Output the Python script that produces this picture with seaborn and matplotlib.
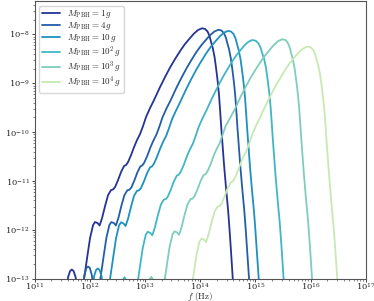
import numpy as np
import pandas as pd
import matplotlib
matplotlib.use("Agg")
import matplotlib.pyplot as plt
import seaborn as sns

# log10 f [Hz] and log10 Omega_GW h^2
masses = ["1", "4", "10", "10^2", "10^3", "10^4"]
colors = ["#253494", "#225ea8", "#1d91c0", "#41b6c4", "#7fcdbb", "#c7e9b4"]

lf_1g = [11.531, 11.576, 11.604, 11.640, 11.671, 11.703, 11.740, 11.767, 11.812, 11.857,
         11.894, 11.948, 12.002, 12.057, 12.093, 12.138, 12.175, 12.220, 12.274, 12.329,
         12.383, 12.419, 12.456, 12.510, 12.564, 12.619, 12.655, 12.691, 12.746, 12.800,
         12.854, 12.909, 12.963, 13.017, 13.090, 13.162, 13.271, 13.362, 13.452, 13.543,
         13.634, 13.724, 13.815, 13.887, 13.960, 14.032, 14.087, 14.132, 14.168, 14.196,
         14.226, 14.259, 14.286, 14.317, 14.341, 14.359, 14.377, 14.404, 14.431, 14.467,
         14.504, 14.531, 14.558, 14.589, 14.612]
lo_1g = [-14.05, -13.23, -12.965, -12.842, -12.812, -12.842, -12.965, -13.23, -14.05, -13.33,
         -13.0, -12.576, -12.167, -11.900, -11.839, -11.860, -11.911, -11.757, -11.511, -11.286,
         -11.184, -11.174, -11.122, -10.979, -10.815, -10.692, -10.672, -10.611, -10.467, -10.303,
         -10.160, -10.037, -9.873, -9.689, -9.505, -9.341, -9.075, -8.870, -8.676, -8.502,
         -8.338, -8.194, -8.072, -7.980, -7.908, -7.873, -7.887, -7.939, -8.031, -8.154,
         -8.276, -8.461, -8.686, -8.973, -9.259, -9.546, -9.853, -10.263, -10.672, -11.143,
         -11.593, -12.003, -12.453, -13.0, -13.272]

lf_4g = [11.826, 11.871, 11.899, 11.935, 11.966, 11.998, 12.035, 12.062, 12.107, 12.152,
         12.189, 12.243, 12.297, 12.352, 12.388, 12.433, 12.470, 12.515, 12.569, 12.624,
         12.678, 12.714, 12.751, 12.805, 12.859, 12.914, 12.950, 12.986, 13.041, 13.095,
         13.149, 13.204, 13.258, 13.312, 13.385, 13.457, 13.566, 13.657, 13.747, 13.838,
         13.929, 14.019, 14.110, 14.182, 14.255, 14.327, 14.382, 14.427, 14.463, 14.491,
         14.521, 14.554, 14.581, 14.612, 14.636, 14.654, 14.672, 14.699, 14.726, 14.762,
         14.799, 14.826, 14.853, 14.884, 14.907]
lo_4g = [-14.05, -13.23, -12.93, -12.78, -12.75, -12.78, -12.93, -13.23, -14.05, -13.33,
         -13.0, -12.58, -12.17, -11.90, -11.84, -11.86, -11.91, -11.76, -11.51, -11.29,
         -11.19, -11.18, -11.13, -10.99, -10.825, -10.70, -10.68, -10.62, -10.48, -10.315,
         -10.175, -10.05, -9.89, -9.705, -9.52, -9.36, -9.095, -8.89, -8.70, -8.525,
         -8.36, -8.22, -8.10, -8.01, -7.94, -7.903, -7.917, -7.97, -8.06, -8.18,
         -8.30, -8.49, -8.71, -9.00, -9.28, -9.57, -9.88, -10.29, -10.70, -11.17,
         -11.62, -12.03, -12.48, -13.0, -13.27]

lf_10g = [12.002, 12.047, 12.075, 12.111, 12.142, 12.174, 12.211, 12.238, 12.283, 12.328,
          12.365, 12.419, 12.473, 12.528, 12.564, 12.609, 12.646, 12.691, 12.745, 12.800,
          12.854, 12.890, 12.927, 12.981, 13.035, 13.090, 13.126, 13.162, 13.217, 13.271,
          13.325, 13.380, 13.434, 13.488, 13.561, 13.633, 13.742, 13.833, 13.923, 14.014,
          14.105, 14.195, 14.286, 14.358, 14.431, 14.503, 14.558, 14.603, 14.639, 14.667,
          14.697, 14.730, 14.757, 14.788, 14.812, 14.830, 14.848, 14.875, 14.902, 14.938,
          14.975, 15.002, 15.029, 15.060, 15.083]
lo_10g = [-14.05, -13.23, -12.95, -12.82, -12.79, -12.82, -12.95, -13.23, -14.05, -13.33,
          -13.0, -12.58, -12.17, -11.905, -11.845, -11.87, -11.92, -11.77, -11.525, -11.30,
          -11.20, -11.19, -11.14, -11.00, -10.84, -10.72, -10.70, -10.64, -10.50, -10.34,
          -10.20, -10.08, -9.915, -9.735, -9.555, -9.39, -9.125, -8.92, -8.73, -8.555,
          -8.39, -8.245, -8.125, -8.035, -7.96, -7.928, -7.94, -7.99, -8.08, -8.20,
          -8.32, -8.51, -8.73, -9.02, -9.30, -9.59, -9.90, -10.31, -10.72, -11.19,
          -11.64, -12.05, -12.50, -13.0, -13.27]

lf_1e2g = [12.486, 12.531, 12.559, 12.595, 12.626, 12.658, 12.695, 12.722, 12.767, 12.812,
           12.849, 12.903, 12.957, 13.012, 13.048, 13.093, 13.130, 13.175, 13.229, 13.284,
           13.338, 13.374, 13.411, 13.465, 13.519, 13.574, 13.610, 13.646, 13.701, 13.755,
           13.809, 13.864, 13.918, 13.972, 14.045, 14.117, 14.226, 14.317, 14.407, 14.498,
           14.579, 14.664, 14.745, 14.807, 14.875, 14.942, 15.002, 15.052, 15.093, 15.126,
           15.161, 15.194, 15.221, 15.252, 15.276, 15.294, 15.312, 15.339, 15.366, 15.402,
           15.439, 15.466, 15.493, 15.524, 15.547]
lo_1e2g = [-14.25, -13.43, -13.17, -13.03, -12.97, -13.03, -13.17, -13.43, -14.25, -13.53,
           -13.20, -12.78, -12.37, -12.10, -12.04, -12.06, -12.11, -11.96, -11.71, -11.49,
           -11.38, -11.37, -11.32, -11.18, -11.015, -10.89, -10.87, -10.81, -10.67, -10.50,
           -10.36, -10.24, -10.07, -9.89, -9.705, -9.54, -9.275, -9.07, -8.876, -8.70,
           -8.55, -8.41, -8.30, -8.215, -8.148, -8.113, -8.127, -8.179, -8.271, -8.394,
           -8.516, -8.701, -8.926, -9.213, -9.499, -9.786, -10.093, -10.503, -10.912, -11.383,
           -11.833, -12.243, -12.693, -13.24, -13.51]

lf_1e3g = [12.971, 13.016, 13.044, 13.080, 13.111, 13.143, 13.180, 13.207, 13.252, 13.297,
           13.334, 13.388, 13.442, 13.497, 13.533, 13.578, 13.615, 13.660, 13.714, 13.769,
           13.823, 13.859, 13.896, 13.950, 14.004, 14.059, 14.095, 14.131, 14.186, 14.240,
           14.294, 14.349, 14.403, 14.457, 14.545, 14.622, 14.731, 14.822, 14.912, 15.003,
           15.094, 15.182, 15.271, 15.342, 15.415, 15.487, 15.540, 15.583, 15.618, 15.646,
           15.676, 15.709, 15.736, 15.767, 15.791, 15.809, 15.827, 15.854, 15.881, 15.917,
           15.954, 15.981, 16.008, 16.039, 16.062]
lo_1e3g = [-14.25, -13.42, -13.16, -13.02, -12.96, -13.02, -13.16, -13.42, -14.25, -13.52,
           -13.19, -12.77, -12.36, -12.09, -12.03, -12.05, -12.10, -11.95, -11.70, -11.48,
           -11.37, -11.36, -11.31, -11.17, -11.005, -10.88, -10.86, -10.80, -10.66, -10.49,
           -10.35, -10.23, -10.06, -9.88, -9.70, -9.54, -9.275, -9.075, -8.886, -8.717,
           -8.558, -8.419, -8.297, -8.205, -8.133, -8.098, -8.112, -8.164, -8.256, -8.379,
           -8.501, -8.686, -8.911, -9.198, -9.484, -9.771, -10.078, -10.488, -10.897, -11.368,
           -11.818, -12.228, -12.678, -13.225, -13.497]

lf_1e4g = [13.461, 13.506, 13.534, 13.570, 13.601, 13.633, 13.670, 13.697, 13.742, 13.787,
           13.824, 13.878, 13.932, 13.987, 14.023, 14.068, 14.105, 14.150, 14.204, 14.259,
           14.313, 14.349, 14.386, 14.440, 14.494, 14.549, 14.585, 14.621, 14.676, 14.730,
           14.784, 14.839, 14.893, 14.947, 15.020, 15.092, 15.201, 15.292, 15.382, 15.473,
           15.559, 15.644, 15.730, 15.799, 15.870, 15.942, 15.999, 16.046, 16.083, 16.111,
           16.141, 16.174, 16.201, 16.232, 16.256, 16.274, 16.292, 16.319, 16.346, 16.382,
           16.419, 16.446, 16.473, 16.504, 16.527]
lo_1e4g = [-14.39, -13.57, -13.305, -13.18, -13.15, -13.18, -13.305, -13.57, -14.39, -13.67,
           -13.34, -12.916, -12.507, -12.24, -12.179, -12.20, -12.251, -12.097, -11.851, -11.626,
           -11.524, -11.514, -11.462, -11.319, -11.155, -11.032, -11.012, -10.951, -10.807, -10.643,
           -10.50, -10.377, -10.213, -10.029, -9.845, -9.681, -9.415, -9.21, -9.016, -8.85,
           -8.688, -8.554, -8.437, -8.35, -8.283, -8.248, -8.262, -8.314, -8.406, -8.529,
           -8.651, -8.836, -9.061, -9.348, -9.634, -9.921, -10.228, -10.638, -11.047, -11.518,
           -11.968, -12.378, -12.828, -13.375, -13.647]

log_f = [lf_1g, lf_4g, lf_10g, lf_1e2g, lf_1e3g, lf_1e4g]
log_omega = [lo_1g, lo_4g, lo_10g, lo_1e2g, lo_1e3g, lo_1e4g]

sns.set_style("ticks")
plt.rcParams["font.family"] = ["DejaVu Serif"]
plt.rcParams["mathtext.fontset"] = "cm"

labels = [rf"$M_{{\rm PBH}} = {m}\,g$" for m in masses]
frames = []
for lab, lf, lo in zip(labels, log_f, log_omega):
    frames.append(pd.DataFrame({"f": np.power(10.0, lf), "omega": np.power(10.0, lo), "mass": lab}))
df = pd.concat(frames, ignore_index=True)

fig = plt.figure(figsize=(3.74, 3.01), dpi=100)
ax = fig.add_axes([0.093, 0.074, 0.885, 0.922])
sns.lineplot(data=df, x="f", y="omega", hue="mass", hue_order=labels,
             palette=colors, sort=False, estimator=None, lw=1.3, ax=ax)
ax.set_xscale("log")
ax.set_yscale("log")
ax.set_xlim(1e11, 1e17)
ax.set_ylim(1e-13, 4.8e-8)
ax.set_xlabel(r"$f\ (\mathrm{Hz})$", fontsize=6.5)
ax.xaxis.set_label_coords(0.5, -0.041)
ax.set_ylabel(r"$\Omega_{\rm GW}h^2$", fontsize=7, labelpad=1)
ax.tick_params(axis="both", which="major", labelsize=6, length=2.5, width=0.6, pad=1)
ax.tick_params(axis="x", which="major", pad=-0.8)
ax.tick_params(axis="both", which="minor", length=1.5, width=0.4)
for s in ax.spines.values():
    s.set_color("#555555")
    s.set_linewidth(0.8)

handles, _ = ax.get_legend_handles_labels()
ax.legend(handles, labels, loc="upper left", fontsize=6.5, frameon=True,
          handlelength=2.0, handletextpad=0.8, borderaxespad=0.5, labelspacing=0.0,
          borderpad=0.3, edgecolor="#cccccc")

fig.savefig("out.png", dpi=100)
